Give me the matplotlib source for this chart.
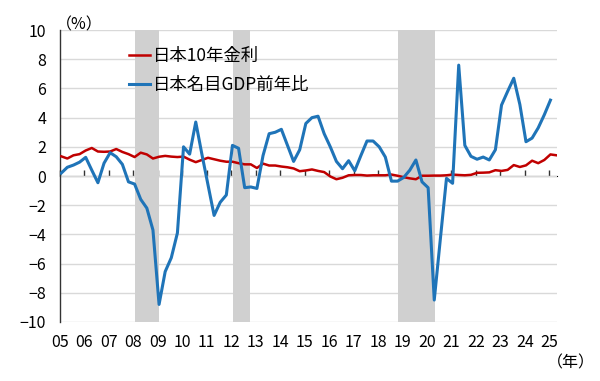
import numpy as np
import matplotlib as mpl
mpl.use('Agg')
import matplotlib.pyplot as plt
import matplotlib.ticker as ticker

plt.rcParams['font.family'] = ['Noto Sans CJK JP', 'DejaVu Sans']

# quarterly data, 2005Q1 onward
jgb10y = [1.35, 1.20, 1.42, 1.50,
          1.75, 1.92, 1.68, 1.66,
          1.68, 1.85, 1.65, 1.50,
          1.30, 1.60, 1.48, 1.20,
          1.32, 1.38, 1.33, 1.30,
          1.33, 1.12, 0.95, 1.10,
          1.25, 1.15, 1.05, 0.98,
          0.98, 0.88, 0.80, 0.80,
          0.55, 0.85, 0.72, 0.72,
          0.65, 0.60, 0.52, 0.33,
          0.38, 0.45, 0.35, 0.27,
          -0.03, -0.22, -0.12, 0.05,
          0.07, 0.07, 0.03, 0.05,
          0.05, 0.05, 0.10, 0.02,
          -0.08, -0.16, -0.22, 0.02,
          0.02, 0.03, 0.03, 0.05,
          0.10, 0.07, 0.05, 0.08,
          0.22, 0.23, 0.25, 0.40,
          0.35, 0.42, 0.75, 0.62,
          0.73, 1.05, 0.88, 1.10,
          1.48, 1.42]
gdp_yoy = [0.20, 0.60, 0.75, 0.95,
           1.28, 0.40, -0.46, 0.88,
           1.60, 1.32, 0.80, -0.40,
           -0.55, -1.60, -2.20, -3.70,
           -8.80, -6.55, -5.60, -3.90,
           2.00, 1.50, 3.70, 1.50,
           -0.60, -2.70, -1.80, -1.30,
           2.10, 1.90, -0.80, -0.75,
           -0.85, 1.40, 2.90, 3.00,
           3.20, 2.10, 1.00, 1.80,
           3.60, 4.00, 4.10, 2.90,
           2.00, 1.00, 0.50, 1.05,
           0.36, 1.40, 2.40, 2.40,
           2.00, 1.30, -0.35, -0.35,
           -0.10, 0.40, 1.10, -0.40,
           -0.80, -8.50, -4.30, -0.16,
           -0.50, 7.60, 2.10, 1.35,
           1.15, 1.30, 1.10, 1.80,
           4.86, 5.80, 6.70, 4.90,
           2.35, 2.60, 3.30, 4.20,
           5.20]

# recession periods (year fraction)
rec_start = [2008.08, 2012.07, 2018.80]
rec_end = [2009.05, 2012.78, 2020.33]

years = list(range(2005, 2026))
year_labels = ['%02d' % (y % 100) for y in years]

x_rate = 2005.05 + np.arange(len(jgb10y)) / 4
x_gdp = 2005.05 + np.arange(len(gdp_yoy)) / 4

fig = plt.figure(figsize=(6.0, 3.81), dpi=100, facecolor='w')
ax = fig.add_axes([0.1, 0.155, 0.828, 0.766])

ax.set_axisbelow(True)
ax.grid(axis='y', color='#d9d9d9', lw=1.0)
for s, e in zip(rec_start, rec_end):
    ax.axvspan(s, e, color='#d0d0d0', lw=0, zorder=1)

ax.plot(x_rate, jgb10y, color='#c00000', lw=1.8, label='日本10年金利', zorder=3)
ax.plot(x_gdp, gdp_yoy, color='#1f74b8', lw=2.2, label='日本名目GDP前年比', zorder=4)

ax.set_xlim(2005, 2025.31)
ax.set_ylim(-10, 10)
ax.yaxis.set_major_locator(ticker.MultipleLocator(2))
ax.set_xticks(years)
ax.set_xticklabels(year_labels)
ax.tick_params(axis='x', length=0, pad=9, labelsize=11.5)
ax.tick_params(axis='y', length=0, pad=10, labelsize=11.5)
for sp in ['top', 'right', 'bottom']:
    ax.spines[sp].set_visible(False)
ax.spines['left'].set_color('#333333')
ax.spines['left'].set_linewidth(1.0)

# zero axis with year ticks
zax = ax.secondary_xaxis(0.5)
zax.set_xticks(years)
zax.tick_params(axis='x', direction='out', length=4, width=1.0, color='#333333',
                labelbottom=False, labeltop=False)
zax.spines['bottom'].set_color('#333333')
zax.spines['bottom'].set_linewidth(1.0)

ax.legend(frameon=False, loc='upper left', bbox_to_anchor=(0.139, 0.943),
          borderaxespad=0, borderpad=0, fontsize=12.5, handlelength=1.2,
          handletextpad=0.2, labelspacing=0.65)

fig.text(0.093, 0.935, '（%）', fontsize=11.5, ha='left', va='center')
fig.text(0.912, 0.048, '（年）', fontsize=11.5, ha='left', va='center')

plt.savefig('out.png', dpi=100)
